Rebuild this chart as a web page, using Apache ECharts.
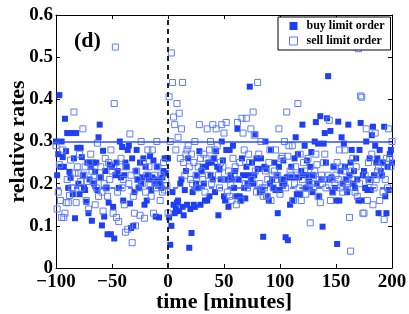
<!DOCTYPE html>
<html>
<head>
<meta charset="utf-8">
<script src="https://cdn.jsdelivr.net/npm/echarts@6/dist/echarts.min.js"></script>
<style>html,body{margin:0;padding:0;background:#fff}#c{width:409px;height:314px}</style>
</head>
<body>
<div id="c"></div>
<script>
// time grid: one sample per minute starting at startMinute
const startMinute = -100;
const xTicks = [-100, -50, 0, 50, 100, 150, 200];
const yTicks = [0, 0.1, 0.2, 0.3, 0.4, 0.5, 0.6];
const seriesNames = ['buy limit order', 'sell limit order'];
const panelLabel = '(d)';
const eventTime = [0];
const solidLevel = [0.3];
const dashedLevel = [0.19];

const buyRates = [
0.30,0.22,0.27,0.41,0.24,0.30,0.263,0.24,0.354,0.277,
0.32,0.19,0.228,0.214,0.32,0.175,0.26,0.118,0.32,0.285,
0.20,0.175,0.285,0.263,0.22,0.19,0.185,0.157,0.25,0.13,
0.21,0.24,0.112,0.25,0.20,0.228,0.25,0.185,0.31,0.34,
0.215,0.101,0.278,0.122,0.23,0.19,0.08,0.155,0.245,0.08,
0.24,0.145,0.07,0.22,0.25,0.23,0.19,0.30,0.215,0.287,
0.16,0.22,0.25,0.24,0.28,0.29,0.153,0.095,0.26,0.10,
0.18,0.23,0.28,0.21,0.19,0.25,0.20,0.215,0.26,0.15,
0.24,0.16,0.22,0.21,0.265,0.185,0.215,0.255,0.20,0.122,
0.24,0.21,0.12,0.20,0.19,0.215,0.23,0.26,0.225,0.26,
0.26,0.12,0.055,0.10,0.18,0.15,0.13,0.14,0.155,0.16,
0.135,0.20,0.21,0.145,0.125,0.185,0.23,0.15,0.26,0.048,
0.14,0.083,0.18,0.15,0.145,0.20,0.22,0.19,0.277,0.15,
0.23,0.24,0.20,0.16,0.24,0.16,0.25,0.17,0.22,0.25,
0.21,0.26,0.18,0.277,0.24,0.125,0.235,0.21,0.30,0.255,
0.17,0.16,0.28,0.21,0.145,0.28,0.22,0.21,0.29,0.19,
0.23,0.17,0.33,0.21,0.17,0.16,0.26,0.22,0.19,0.165,
0.24,0.20,0.22,0.43,0.21,0.25,0.20,0.22,0.317,0.26,
0.235,0.235,0.18,0.26,0.185,0.074,0.24,0.30,0.235,0.17,
0.16,0.20,0.28,0.21,0.19,0.25,0.185,0.22,0.13,0.24,
0.185,0.21,0.20,0.255,0.20,0.073,0.215,0.066,0.215,0.15,
0.24,0.16,0.215,0.26,0.31,0.175,0.27,0.215,0.175,0.23,
0.34,0.22,0.29,0.19,0.255,0.22,0.205,0.24,0.275,0.18,
0.22,0.30,0.346,0.20,0.295,0.17,0.36,0.21,0.098,0.295,
0.32,0.25,0.355,0.455,0.21,0.325,0.215,0.18,0.24,0.19,
0.16,0.057,0.347,0.16,0.23,0.31,0.20,0.295,0.24,0.21,
0.18,0.34,0.22,0.25,0.28,0.20,0.23,0.19,0.26,0.21,
0.16,0.28,0.344,0.16,0.22,0.23,0.19,0.30,0.185,0.21,
0.26,0.185,0.315,0.335,0.22,0.29,0.25,0.26,0.13,0.28,
0.23,0.22,0.25,0.335,0.17,0.13,0.24,0.185,0.27,0.28,0.25
];

const sellRates = [
0.29,0.14,0.18,0.245,0.16,0.12,0.28,0.12,0.13,0.155,
0.21,0.155,0.172,0.256,0.19,0.19,0.37,0.225,0.155,0.24,
0.225,0.27,0.205,0.19,0.33,0.22,0.24,0.16,0.205,0.14,
0.25,0.27,0.23,0.205,0.215,0.15,0.19,0.296,0.17,0.215,
0.24,0.18,0.135,0.20,0.26,0.19,0.17,0.25,0.21,0.28,
0.23,0.13,0.39,0.524,0.12,0.18,0.11,0.24,0.26,0.19,
0.21,0.15,0.085,0.24,0.092,0.20,0.318,0.22,0.06,0.17,
0.13,0.10,0.23,0.21,0.19,0.125,0.30,0.20,0.25,0.118,
0.18,0.22,0.28,0.24,0.20,0.17,0.28,0.13,0.22,0.19,
0.30,0.24,0.20,0.16,0.22,0.18,0.25,0.185,0.21,0.195,
0.13,0.406,0.30,0.51,0.44,0.358,0.34,0.28,0.39,0.31,
0.367,0.26,0.33,0.44,0.25,0.22,0.27,0.28,0.29,0.24,
0.21,0.27,0.20,0.25,0.30,0.22,0.19,0.24,0.34,0.26,
0.23,0.21,0.27,0.18,0.26,0.33,0.22,0.28,0.30,0.20,
0.34,0.26,0.28,0.33,0.29,0.22,0.19,0.25,0.34,0.24,
0.32,0.21,0.345,0.18,0.23,0.17,0.20,0.16,0.26,0.22,
0.24,0.15,0.345,0.21,0.25,0.16,0.355,0.32,0.28,0.20,
0.355,0.19,0.27,0.25,0.33,0.21,0.37,0.315,0.23,0.18,
0.44,0.27,0.20,0.30,0.19,0.17,0.19,0.23,0.17,0.21,
0.25,0.28,0.16,0.22,0.19,0.23,0.28,0.21,0.22,0.33,
0.175,0.26,0.265,0.21,0.30,0.19,0.37,0.265,0.29,0.23,
0.22,0.29,0.16,0.20,0.24,0.22,0.39,0.19,0.27,0.16,
0.21,0.25,0.23,0.175,0.19,0.26,0.20,0.107,0.20,0.22,
0.19,0.23,0.27,0.245,0.17,0.21,0.155,0.22,0.20,0.25,
0.27,0.19,0.21,0.22,0.35,0.16,0.21,0.18,0.24,0.20,
0.22,0.25,0.21,0.28,0.19,0.24,0.18,0.23,0.28,0.21,
0.19,0.20,0.12,0.04,0.23,0.26,0.21,0.18,0.24,0.17,
0.52,0.20,0.408,0.405,0.13,0.13,0.22,0.33,0.16,0.25,
0.205,0.21,0.27,0.15,0.19,0.32,0.21,0.23,0.24,0.16,
0.22,0.25,0.18,0.115,0.21,0.26,0.19,0.33,0.26,0.24,0.30
];

const SERIF = "'Liberation Serif','Times New Roman',serif";
const BUY = '#1f3ff5';
const SELL = '#5f7cff';
const LINE = '#2a4cff';

const toPoints = arr => arr.map((v, i) => [startMinute + i, v]);
const fmtX = v => (v < 0 ? '\u2212' + Math.abs(v) : String(v));
const fmtY = v => (v === 0 ? '0' : v.toFixed(1));

const chart = echarts.init(document.getElementById('c'), null, {renderer: 'canvas'});
const axisText = {fontFamily: SERIF, fontWeight: 'bold', fontSize: 19, color: '#000'};
const xBase = {
  type: 'value', min: xTicks[0], max: xTicks[xTicks.length - 1], interval: xTicks[1] - xTicks[0],
  axisLine: {show: true, onZero: false, lineStyle: {color: '#000', width: 1}},
  axisTick: {show: true, inside: true, length: 4, lineStyle: {color: '#000'}},
  splitLine: {show: false}
};
const yBase = {
  type: 'value', min: yTicks[0], max: yTicks[yTicks.length - 1], interval: 0.1,
  axisLine: {show: true, onZero: false, lineStyle: {color: '#000', width: 1}},
  axisTick: {show: true, inside: true, length: 4, lineStyle: {color: '#000'}},
  splitLine: {show: false}
};

chart.setOption({
  animation: false,
  backgroundColor: '#fff',
  grid: {left: 56, right: 17, top: 15, bottom: 46, containLabel: false, outerBoundsMode: 'none'},
  xAxis: [
    Object.assign({}, xBase, {
      position: 'bottom',
      axisLabel: Object.assign({margin: 5, formatter: fmtX}, axisText),
      name: 'time [minutes]', nameLocation: 'middle', nameGap: 23, nameMoveOverlap: false,
      nameTextStyle: {fontFamily: SERIF, fontWeight: 'bold', fontSize: 22, color: '#000'}
    }),
    Object.assign({}, xBase, {position: 'top', axisLabel: {show: false}})
  ],
  yAxis: [
    Object.assign({}, yBase, {
      position: 'left',
      axisLabel: Object.assign({margin: 3, formatter: fmtY}, axisText),
      name: 'relative rates', nameLocation: 'middle', nameGap: 27, nameMoveOverlap: false,
      nameTextStyle: {fontFamily: SERIF, fontWeight: 'bold', fontSize: 22, color: '#000'}
    }),
    Object.assign({}, yBase, {position: 'right', axisLabel: {show: false}})
  ],
  legend: {
    orient: 'vertical', left: 278, top: 17, width: 114,
    backgroundColor: '#fff', borderColor: '#000', borderWidth: 1,
    padding: [3, 6, 3, 11], itemGap: 3, itemWidth: 8, itemHeight: 8,
    textStyle: {fontFamily: SERIF, fontWeight: 'bold', fontSize: 12, color: '#000', padding: [0, 0, 0, 4]},
    data: [
      {name: seriesNames[0], icon: 'rect', itemStyle: {color: BUY, borderWidth: 0}},
      {name: seriesNames[1], icon: 'rect', itemStyle: {color: '#fff', borderColor: SELL, borderWidth: 1}}
    ]
  },
  graphic: [{
    type: 'text', left: 74, top: 30, z: 10,
    style: {text: panelLabel, font: 'bold 22px ' + SERIF, fill: '#000'}
  }],
  series: [
    {
      name: seriesNames[0], type: 'scatter', symbol: 'rect', symbolSize: 6,
      data: toPoints(buyRates),
      itemStyle: {color: BUY, opacity: 1},
      z: 2
    },
    {
      name: seriesNames[1], type: 'scatter', symbol: 'rect', symbolSize: 6,
      data: toPoints(sellRates),
      itemStyle: {color: 'rgba(255,255,255,0)', borderColor: SELL, borderWidth: 1, opacity: 1},
      z: 3,
      markLine: {
        silent: true, symbol: 'none', label: {show: false}, animation: false,
        data: [
          {yAxis: solidLevel[0], lineStyle: {color: LINE, width: 1.5, type: 'solid'}},
          {yAxis: dashedLevel[0], lineStyle: {color: LINE, width: 1.5, type: [5, 4]}},
          {xAxis: eventTime[0], lineStyle: {color: '#222', width: 2, type: [5, 4]}}
        ]
      }
    }
  ]
});
</script>
</body>
</html>
